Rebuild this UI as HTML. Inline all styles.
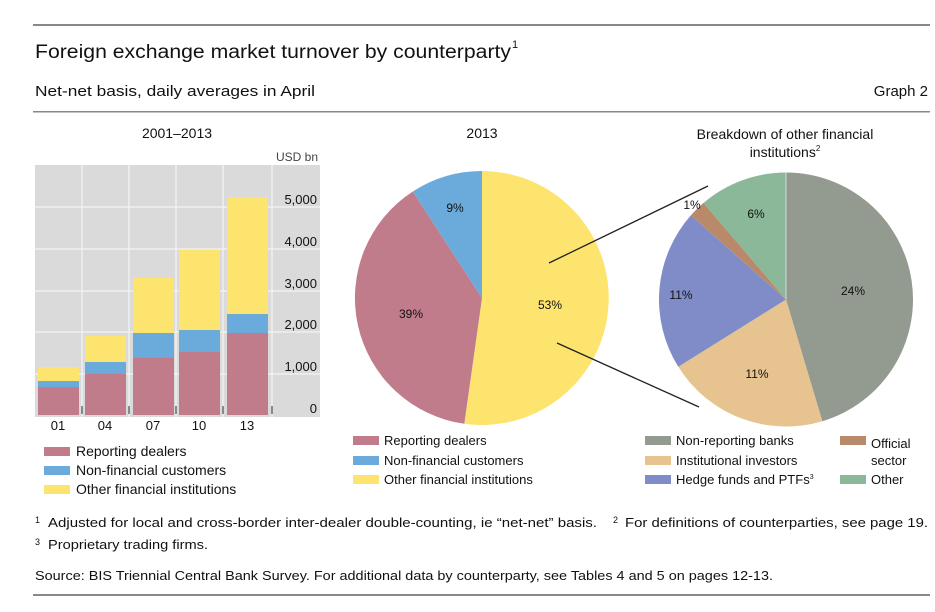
<!DOCTYPE html>
<html><head><meta charset="utf-8"><style>
body{margin:0;background:#fff;}
svg{display:block;font-family:"Liberation Sans",sans-serif;}
</style></head><body>
<svg width="935" height="612" viewBox="0 0 935 612" xmlns="http://www.w3.org/2000/svg">
<rect x="33" y="24" width="897" height="2" fill="#888"/>
<text x="35" y="58" font-size="19" fill="#111" textLength="476" lengthAdjust="spacingAndGlyphs">Foreign exchange market turnover by counterparty</text>
<text x="512" y="48" font-size="11" fill="#111">1</text>
<text x="35" y="96" font-size="15" fill="#111" textLength="280" lengthAdjust="spacingAndGlyphs">Net-net basis, daily averages in April</text>
<text x="928" y="96" font-size="15" fill="#111" text-anchor="end">Graph 2</text>
<rect x="33" y="111" width="897" height="1.5" fill="#888"/>

<text x="177" y="138" font-size="14" text-anchor="middle" fill="#111">2001–2013</text>
<text x="482" y="138" font-size="14" text-anchor="middle" fill="#111">2013</text>
<text x="785" y="139" font-size="14" text-anchor="middle" fill="#111">Breakdown of other financial</text>
<text x="785" y="157" font-size="14" text-anchor="middle" fill="#111">institutions<tspan font-size="8" dy="-6">2</tspan></text>

<!-- bar chart -->
<text x="318" y="161" font-size="12" text-anchor="end" fill="#444">USD bn</text>
<rect x="35" y="165" width="285" height="252" fill="#dadada"/>
<g stroke="#f4f4f4" stroke-width="1.2">
<line x1="35" y1="207" x2="320" y2="207"/><line x1="35" y1="249" x2="320" y2="249"/>
<line x1="35" y1="291" x2="320" y2="291"/><line x1="35" y1="332" x2="320" y2="332"/>
<line x1="35" y1="374" x2="320" y2="374"/>
<line x1="82" y1="165" x2="82" y2="417"/><line x1="129" y1="165" x2="129" y2="417"/>
<line x1="176" y1="165" x2="176" y2="417"/><line x1="223" y1="165" x2="223" y2="417"/>
<line x1="272" y1="165" x2="272" y2="417"/>
</g>
<g>
<rect x="38" y="367" width="41" height="14" fill="#fde46e"/><rect x="38" y="381" width="41" height="6" fill="#6aabdc"/><rect x="38" y="387" width="41" height="28" fill="#c17c8c"/>
<rect x="85" y="336" width="41" height="26" fill="#fde46e"/><rect x="85" y="362" width="41" height="12" fill="#6aabdc"/><rect x="85" y="374" width="41" height="41" fill="#c17c8c"/>
<rect x="133" y="278" width="41" height="55" fill="#fde46e"/><rect x="133" y="333" width="41" height="25" fill="#6aabdc"/><rect x="133" y="358" width="41" height="57" fill="#c17c8c"/>
<rect x="179" y="250" width="41" height="80" fill="#fde46e"/><rect x="179" y="330" width="41" height="22" fill="#6aabdc"/><rect x="179" y="352" width="41" height="63" fill="#c17c8c"/>
<rect x="227" y="197" width="41" height="117" fill="#fde46e"/><rect x="227" y="314" width="41" height="19" fill="#6aabdc"/><rect x="227" y="333" width="41" height="82" fill="#c17c8c"/>
</g>
<g stroke="#333" stroke-width="1"><line x1="82" y1="406" x2="82" y2="414"/><line x1="129" y1="406" x2="129" y2="414"/><line x1="176" y1="406" x2="176" y2="414"/><line x1="223" y1="406" x2="223" y2="414"/><line x1="272" y1="406" x2="272" y2="414"/></g>
<g font-size="13" fill="#111" text-anchor="end">
<text x="317" y="204">5,000</text><text x="317" y="246">4,000</text><text x="317" y="288">3,000</text>
<text x="317" y="329">2,000</text><text x="317" y="371">1,000</text><text x="317" y="413">0</text>
</g>
<g font-size="13" fill="#111" text-anchor="middle">
<text x="58" y="430">01</text><text x="105" y="430">04</text><text x="153" y="430">07</text><text x="199" y="430">10</text><text x="247" y="430">13</text>
</g>
<g font-size="14" fill="#111">
<rect x="44" y="447" width="26" height="9" fill="#c17c8c"/><text x="76" y="456">Reporting dealers</text>
<rect x="44" y="466" width="26" height="9" fill="#6aabdc"/><text x="76" y="475">Non-financial customers</text>
<rect x="44" y="485" width="26" height="9" fill="#fde46e"/><text x="76" y="494">Other financial institutions</text>
</g>

<!-- pie 2013 -->
<path d="M482,298 L482,171 A127,127 0 1 1 464.3,423.8 Z" fill="#fde46e"/>
<path d="M482,298 L464.3,423.8 A127,127 0 0 1 412.8,191.5 Z" fill="#c17c8c"/>
<path d="M482,298 L412.8,191.5 A127,127 0 0 1 482,171 Z" fill="#6aabdc"/>
<g font-size="12" fill="#111" text-anchor="middle">
<text x="455" y="212">9%</text><text x="411" y="318">39%</text><text x="550" y="309">53%</text>
</g>
<line x1="549" y1="263" x2="708" y2="186" stroke="#222" stroke-width="1.3"/>
<line x1="557" y1="343" x2="699" y2="407" stroke="#222" stroke-width="1.3"/>
<g font-size="13" fill="#111">
<rect x="353" y="436" width="26" height="9" fill="#c17c8c"/><text x="384" y="445">Reporting dealers</text>
<rect x="353" y="456" width="26" height="9" fill="#6aabdc"/><text x="384" y="465">Non-financial customers</text>
<rect x="353" y="475" width="26" height="9" fill="#fde46e"/><text x="384" y="484">Other financial institutions</text>
</g>

<!-- right pie -->
<path d="M786,299.5 L786,172.5 A127,127 0 0 1 822.3,421.2 Z" fill="#939a8f"/>
<path d="M786,299.5 L822.3,421.2 A127,127 0 0 1 678.3,366.8 Z" fill="#e6c38f"/>
<path d="M786,299.5 L678.3,366.8 A127,127 0 0 1 690.9,215.3 Z" fill="#7f8cc8"/>
<path d="M786,299.5 L690.9,215.3 A127,127 0 0 1 703.5,202.9 Z" fill="#b98a6a"/>
<path d="M786,299.5 L703.5,202.9 A127,127 0 0 1 786,172.5 Z" fill="#8ab898"/>
<g stroke="#fff" stroke-width="0.6" fill="none"><line x1="786" y1="299.5" x2="786" y2="172.5"/></g>
<g font-size="12" fill="#111" text-anchor="middle">
<text x="853" y="295">24%</text><text x="681" y="299">11%</text><text x="757" y="378">11%</text>
<text x="756" y="218">6%</text><text x="692" y="209">1%</text>
</g>
<g font-size="13" fill="#111">
<rect x="645" y="436" width="26" height="9" fill="#939a8f"/><text x="676" y="445">Non-reporting banks</text>
<rect x="645" y="456" width="26" height="9" fill="#e6c38f"/><text x="676" y="465">Institutional investors</text>
<rect x="645" y="475" width="26" height="9" fill="#7f8cc8"/><text x="676" y="484">Hedge funds and PTFs<tspan font-size="7" dy="-5">3</tspan></text>
<rect x="840" y="436" width="26" height="9" fill="#b98a6a"/><text x="871" y="448">Official</text><text x="871" y="465">sector</text>
<rect x="840" y="475" width="26" height="9" fill="#8ab898"/><text x="871" y="484">Other</text>
</g>

<!-- footnotes -->
<g font-size="13" fill="#111">
<text x="35" y="523" font-size="9">1</text>
<text x="48" y="527" textLength="549" lengthAdjust="spacingAndGlyphs">Adjusted for local and cross-border inter-dealer double-counting, ie “net-net” basis.</text>
<text x="613" y="523" font-size="9">2</text>
<text x="625" y="527" textLength="303" lengthAdjust="spacingAndGlyphs">For definitions of counterparties, see page 19.</text>
<text x="35" y="545" font-size="9">3</text>
<text x="48" y="549" textLength="160" lengthAdjust="spacingAndGlyphs">Proprietary trading firms.</text>
<text x="35" y="580" textLength="738" lengthAdjust="spacingAndGlyphs">Source: BIS Triennial Central Bank Survey. For additional data by counterparty, see Tables 4 and 5 on pages 12-13.</text>
</g>
<rect x="33" y="594" width="897" height="2" fill="#888"/>
</svg>
</body></html>
